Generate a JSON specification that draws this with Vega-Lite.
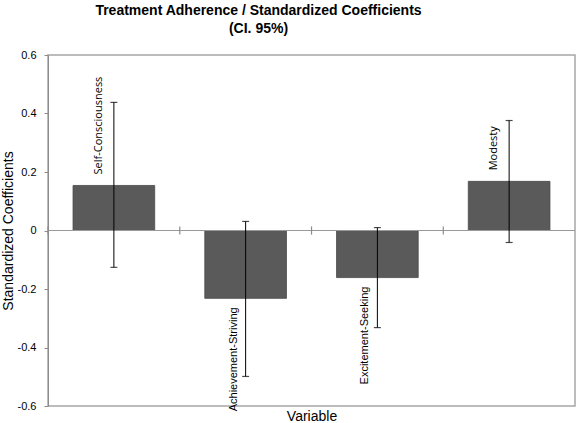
{
  "$schema": "https://vega.github.io/schema/vega-lite/v6.json",
  "width": 527,
  "height": 351,
  "autosize": {"type": "none"},
  "padding": {"left": 48, "top": 55, "right": 3, "bottom": 17},
  "background": "white",
  "config": {
    "view": {"stroke": "#a6a6a6", "strokeWidth": 1.5},
    "font": "Liberation Sans"
  },
  "title": {
    "text": ["Treatment Adherence / Standardized Coefficients", "(CI. 95%)"],
    "font": "Liberation Sans",
    "fontSize": 14,
    "fontWeight": "bold",
    "color": "#000000",
    "lineHeight": 18,
    "anchor": "middle",
    "dx": -53,
    "offset": 13
  },
  "data": {
    "values": [
      {"variable": "Self-Consciousness", "coef": 0.154, "lo": -0.126, "hi": 0.438},
      {"variable": "Achievement-Striving", "coef": -0.232, "lo": -0.499, "hi": 0.031},
      {"variable": "Excitement-Seeking", "coef": -0.161, "lo": -0.332, "hi": 0.010},
      {"variable": "Modesty", "coef": 0.168, "lo": -0.041, "hi": 0.376}
    ]
  },
  "encoding": {
    "x": {
      "field": "variable",
      "type": "nominal",
      "sort": null,
      "scale": {"paddingInner": 0.38, "paddingOuter": 0.19},
      "axis": {
        "title": "Variable",
        "titleFont": "Liberation Sans",
        "titleFontSize": 14,
        "titleFontWeight": "normal",
        "titleColor": "#000000",
        "titleY": 14,
        "titleBaseline": "alphabetic",
        "domain": false,
        "labels": false,
        "ticks": false,
        "grid": false
      }
    }
  },
  "layer": [
    {
      "mark": {"type": "bar", "color": "#5a5a5a", "stroke": "#4a4a4a", "strokeWidth": 0.8},
      "encoding": {
        "y": {
          "field": "coef",
          "type": "quantitative",
          "scale": {"domain": [-0.6, 0.6], "nice": false},
          "axis": {
            "title": "Standardized Coefficients",
            "titleFont": "Liberation Sans",
            "titleFontSize": 14,
            "titleFontWeight": "normal",
            "titleColor": "#000000",
            "titleX": -40,
            "titleBaseline": "middle",
            "values": [-0.6, -0.4, -0.2, 0, 0.2, 0.4, 0.6],
            "labelExpr": "datum.value == 0 ? '0' : (datum.value < 0 ? '-' : '') + format(abs(datum.value), '.1f')",
            "labelFont": "Liberation Sans",
            "labelFontSize": 11,
            "labelColor": "#000000",
            "labelPadding": 8,
            "tickSize": 4,
            "tickColor": "#8c8c8c",
            "domainColor": "#8c8c8c",
            "grid": false
          }
        }
      }
    },
    {
      "mark": {"type": "rule", "color": "#999999", "strokeWidth": 1.2},
      "encoding": {"y": {"datum": 0, "type": "quantitative"}, "x": {"value": 0}, "x2": {"value": 527}}
    },
    {
      "mark": {"type": "rule", "color": "#8c8c8c", "strokeWidth": 1.2, "xOffset": -25},
      "encoding": {
        "x": {"field": "variable", "type": "nominal", "sort": null, "bandPosition": 0},
        "y": {"datum": -0.014, "type": "quantitative"},
        "y2": {"datum": 0.014}
      }
    },
    {
      "mark": {"type": "rule", "color": "#000000", "strokeWidth": 1},
      "encoding": {
        "y": {"field": "lo", "type": "quantitative"},
        "y2": {"field": "hi"}
      }
    },
    {
      "mark": {"type": "tick", "color": "#000000", "thickness": 1.2, "size": 7, "orient": "horizontal"},
      "encoding": {"y": {"field": "lo", "type": "quantitative"}}
    },
    {
      "mark": {"type": "tick", "color": "#000000", "thickness": 1.2, "size": 7, "orient": "horizontal"},
      "encoding": {"y": {"field": "hi", "type": "quantitative"}}
    },
    {
      "transform": [{"filter": "datum.coef > 0"}],
      "mark": {"type": "text", "angle": -90, "align": "left", "baseline": "middle", "dx": 11, "xOffset": -15, "font": "Open Sans", "fontSize": 11, "color": "#000000"},
      "encoding": {
        "y": {"field": "coef", "type": "quantitative"},
        "text": {"field": "variable"}
      }
    },
    {
      "transform": [{"filter": "datum.coef < 0"}],
      "mark": {"type": "text", "angle": -90, "align": "right", "baseline": "middle", "dx": -9, "xOffset": -12, "font": "Liberation Sans", "fontSize": 11, "color": "#000000"},
      "encoding": {
        "y": {"field": "coef", "type": "quantitative"},
        "text": {"field": "variable"}
      }
    }
  ]
}
